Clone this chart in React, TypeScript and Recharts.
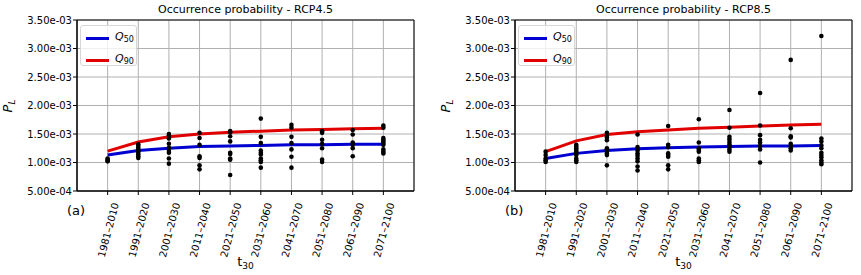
import {
  ComposedChart,
  Line,
  Scatter,
  XAxis,
  YAxis,
  CartesianGrid,
  ReferenceArea,
} from "recharts";

// periods on the x axis
const periods = [
  "1981–2010",
  "1991–2020",
  "2001–2030",
  "2011–2040",
  "2021–2050",
  "2031–2060",
  "2041–2070",
  "2051–2080",
  "2061–2090",
  "2071–2100",
];

const yTicks = [0.0005, 0.001, 0.0015, 0.002, 0.0025, 0.003, 0.0035];

// values in units of 1e-3
const q50Rcp45 = [1.13, 1.21, 1.25, 1.28, 1.29, 1.3, 1.31, 1.31, 1.32, 1.32];
const q90Rcp45 = [1.2, 1.36, 1.45, 1.5, 1.53, 1.55, 1.57, 1.58, 1.59, 1.6];
const q50Rcp85 = [1.07, 1.16, 1.21, 1.24, 1.26, 1.27, 1.28, 1.29, 1.29, 1.3];
const q90Rcp85 = [1.19, 1.38, 1.49, 1.54, 1.57, 1.6, 1.62, 1.64, 1.66, 1.67];

// ensemble members per period
const membersRcp45 = [
  [1.07, 1.05, 1.03, 1.02],
  [1.32, 1.29, 1.26, 1.23, 1.2, 1.17, 1.14, 1.11, 1.08],
  [1.5, 1.47, 1.42, 1.33, 1.26, 1.2, 1.17, 1.07, 0.98],
  [1.52, 1.43, 1.31, 1.11, 1.08, 0.95, 0.88],
  [1.55, 1.53, 1.46, 1.37, 1.17, 1.15, 1.07, 1.05, 0.78],
  [1.77, 1.45, 1.34, 1.21, 1.17, 1.14, 1.07, 1.04, 1.01, 0.91],
  [1.66, 1.61, 1.45, 1.34, 1.23, 1.1, 0.91],
  [1.55, 1.52, 1.4, 1.33, 1.25, 1.05, 1.01],
  [1.57, 1.49, 1.35, 1.31, 1.25, 1.11],
  [1.65, 1.61, 1.43, 1.4, 1.37, 1.34, 1.31, 1.23, 1.19, 1.16],
];
const membersRcp85 = [
  [1.19, 1.13, 1.07, 1.04, 1.01],
  [1.31, 1.28, 1.25, 1.22, 1.19, 1.16, 1.13, 1.07, 1.04, 1.01],
  [1.52, 1.47, 1.44, 1.39, 1.25, 1.23, 1.19, 1.16, 1.13, 0.95],
  [1.49, 1.27, 1.21, 1.16, 1.12, 1.07, 1.02, 0.93, 0.86],
  [1.64, 1.31, 1.27, 1.16, 1.13, 1.1, 0.95, 0.88],
  [1.76, 1.35, 1.25, 1.22, 1.19, 1.07, 1.04, 1.01],
  [1.92, 1.61, 1.45, 1.41, 1.36, 1.32, 1.27, 1.23, 1.19],
  [2.22, 1.65, 1.48, 1.4, 1.35, 1.29, 1.23, 1.0],
  [2.8, 1.6, 1.46, 1.44, 1.33, 1.29, 1.25, 1.21],
  [3.22, 1.42, 1.37, 1.3, 1.25, 1.17, 1.13, 1.09, 1.04, 1.0, 0.97],
];

const SCALE = 1e-3;
const FONT = "DejaVu Sans, sans-serif";
const BLUE = "#0000d0";
const RED = "#e00000";

function fmtExp(v: number) {
  const [m, e] = v.toExponential(2).split("e");
  const n = parseInt(e, 10);
  return `${m}e${n < 0 ? "-" : "+"}${String(Math.abs(n)).padStart(2, "0")}`;
}

const RotTick = (p: any) => {
  const { x, y, payload } = p;
  return (
    <g transform={`translate(${x + 8},${y + 6})`}>
      <text
        transform="rotate(-75)"
        textAnchor="end"
        dominantBaseline="central"
        fontSize={10}
        fontFamily={FONT}
        fill="#000"
      >
        {periods[payload.value]}
      </text>
    </g>
  );
};

const Dot = (p: any) => <circle cx={p.cx} cy={p.cy} r={2.3} fill="#000" />;

const LegendBox = ({ left, top }: { left: number; top: number }) => (
  <div
    style={{
      position: "absolute",
      left,
      top,
      width: 57,
      height: 41,
      boxSizing: "border-box",
      border: "1px solid #d6d6d6",
      borderRadius: 3,
      background: "rgba(255,255,255,0.8)",
      padding: "1px 0 0 5px",
      fontFamily: FONT,
      fontSize: 11,
      lineHeight: "19px",
      zIndex: 2,
    }}
  >
    {[
      [BLUE, "50"],
      [RED, "90"],
    ].map(([c, s]) => (
      <div key={s} style={{ display: "flex", alignItems: "center" }}>
        <span style={{ display: "inline-block", width: 23, height: 3, background: c, marginRight: 6 }} />
        <span>
          <i>Q</i>
          <sub style={{ fontSize: 8, verticalAlign: "-2px" }}>{s}</sub>
        </span>
      </div>
    ))}
  </div>
);

type PanelProps = {
  title: string;
  tag: string;
  q50: number[];
  q90: number[];
  members: number[][];
  width: number;
  marginLeft: number;
  marginRight: number;
  left: number;
};

function Panel({ title, tag, q50, q90, members, width, marginLeft, marginRight, left }: PanelProps) {
  const lineData = periods.map((_, i) => ({ x: i, q50: q50[i] * SCALE, q90: q90[i] * SCALE }));
  const dots = members.flatMap((vals, i) => vals.map((v) => ({ x: i, y: v * SCALE })));
  const plotLeft = marginLeft + 77;
  const plotRight = width - marginRight;
  const cx = (plotLeft + plotRight) / 2;

  return (
    <div style={{ position: "absolute", left, top: 0, width, height: 275 }}>
      <div
        style={{
          position: "absolute",
          top: 3,
          left: cx - 150,
          width: 300,
          textAlign: "center",
          fontFamily: FONT,
          fontSize: 11,
        }}
      >
        {title}
      </div>
      <div
        style={{
          position: "absolute",
          top: 203,
          left: plotLeft - 10,
          fontFamily: FONT,
          fontSize: 13,
        }}
      >
        {tag}
      </div>
      <LegendBox left={plotLeft + 3} top={25} />
      <ComposedChart
        width={width}
        height={275}
        data={lineData}
        margin={{ top: 20, right: marginRight, left: marginLeft, bottom: 0 }}
      >
        <CartesianGrid stroke="#b0b0b0" strokeWidth={1} />
        <XAxis
          dataKey="x"
          type="number"
          domain={[-1, 10]}
          ticks={[0, 1, 2, 3, 4, 5, 6, 7, 8, 9]}
          allowDataOverflow
          tick={<RotTick />}
          tickSize={4}
          tickMargin={2}
          stroke="#000"
          height={84}
          label={{
            content: () => (
              <text x={cx} y={266} textAnchor="middle" fontFamily={FONT} fontSize={13} fill="#000">
                t<tspan fontSize={9} dy={3}>30</tspan>
              </text>
            ),
          }}
        />
        <YAxis
          type="number"
          domain={[0.0005, 0.0035]}
          ticks={yTicks}
          allowDataOverflow
          tickFormatter={fmtExp}
          tick={{ fontSize: 10, fontFamily: FONT, fill: "#000" }}
          tickSize={4}
          tickMargin={1}
          stroke="#000"
          width={77}
          label={{
            content: () => (
              <text
                x={marginLeft + 12}
                y={106}
                transform={`rotate(-90, ${marginLeft + 12}, 106)`}
                textAnchor="middle"
                fontFamily={FONT}
                fontSize={13}
                fill="#000"
              >
                <tspan fontStyle="italic">P</tspan>
                <tspan fontSize={9} dy={3} fontStyle="italic">L</tspan>
              </text>
            ),
          }}
        />
        <ReferenceArea
          x1={-1}
          x2={10}
          y1={0.0005}
          y2={0.0035}
          fill="none"
          stroke="#000"
          strokeWidth={1}
          ifOverflow="visible"
        />
        <Line dataKey="q50" stroke={BLUE} strokeWidth={3} dot={false} isAnimationActive={false} />
        <Line dataKey="q90" stroke={RED} strokeWidth={3} dot={false} isAnimationActive={false} />
        <Scatter data={dots} dataKey="y" shape={<Dot />} isAnimationActive={false} />
      </ComposedChart>
    </div>
  );
}

export default function App() {
  return (
    <div style={{ position: "fixed", left: 0, top: 0, width: 861, height: 275, background: "#fff" }}>
      <Panel
        title="Occurrence probability - RCP4.5"
        tag="(a)"
        q50={q50Rcp45}
        q90={q90Rcp45}
        members={membersRcp45}
        width={430}
        marginLeft={0}
        marginRight={16}
        left={0}
      />
      <Panel
        title="Occurrence probability - RCP8.5"
        tag="(b)"
        q50={q50Rcp85}
        q90={q90Rcp85}
        members={membersRcp85}
        width={431}
        marginLeft={8}
        marginRight={9}
        left={430}
      />
    </div>
  );
}
